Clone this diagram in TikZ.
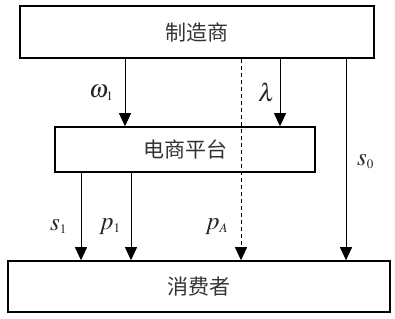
\documentclass[tikz,border=0pt]{standalone}
\usepackage{mathptmx}
\DeclareMathSizes{25}{25}{13}{10}
\usepackage{fontspec}
\newfontfamily\cjk{Noto Sans CJK SC}
\usetikzlibrary{arrows.meta}
\begin{document}
\begin{tikzpicture}[x=1pt,y=-1pt,
  box/.style={draw,line width=1.6pt,inner sep=0pt,text=black!80,font=\cjk\fontsize{21}{23}\selectfont},
  arr/.style={line width=0.9pt,-{Triangle[width=12pt,length=13pt]}},
  lbl/.style={inner sep=0pt,anchor=base west,text=black!85,font=\fontsize{25}{27}\selectfont}]
\useasboundingbox (0,0) rectangle (395,318);
\node[box,minimum width=354pt,minimum height=52pt] (maker) at (197,32) {制造商};
\node[box,minimum width=260pt,minimum height=45pt] (plat) at (185,149.5) {电商平台};
\node[box,minimum width=382pt,minimum height=51pt] (cons) at (199,286.5) {消费者};
\draw[arr] (maker.south -| 125,0) -- (plat.north -| 125,0);
\draw[arr] (maker.south -| 280,0) -- (plat.north -| 280,0);
\draw[arr] (maker.south -| 346,0) -- (cons.north -| 346,0);
\draw[arr,dashed,dash pattern=on 4pt off 3pt] (maker.south -| 241,0) -- (cons.north -| 241,0);
\draw[arr] (plat.south -| 81,0) -- (cons.north -| 81,0);
\draw[arr] (plat.south -| 131,0) -- (cons.north -| 131,0);
\node[lbl] (w1) at (89,97) {$\omega_1$};
\node[lbl] (lam) at (258,101) {$\lambda$};
\node[lbl] (s0) at (357,165) {$s_0$};
\node[lbl] (s1) at (50,230) {$s_1$};
\node[lbl] (p1) at (99,229) {$p_1$};
\node[lbl] (pA) at (205,229) {$p_A$};
\end{tikzpicture}
\end{document}
